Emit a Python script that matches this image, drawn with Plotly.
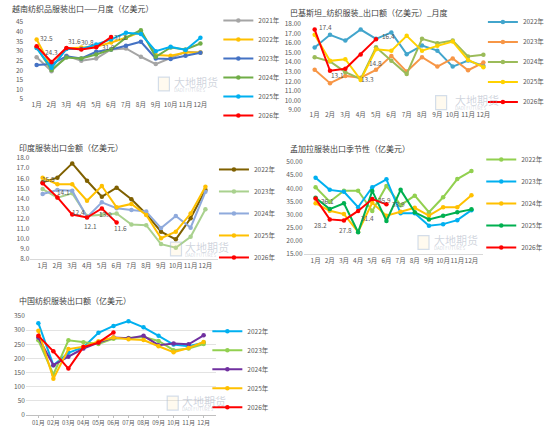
import plotly.graph_objects as go

FONT = "Noto Sans CJK SC"

months = ["1月", "2月", "3月", "4月", "5月", "6月", "7月", "8月", "9月", "10月", "11月", "12月"]
months_cn = ["01月", "02月", "03月", "04月", "05月", "06月", "07月", "08月", "09月", "10月", "11月", "12月"]

# 越南纺织品服装出口（亿美元）
vn_2021 = [26.8, 19.5, 27.5, 24.9, 26.1, 30.8, 31.3, 27.0, 23.2, 26.5, 29.6, 29.2]
vn_2022 = [36.0, 21.5, 31.3, 31.8, 32.2, 34.4, 36.9, 40.0, 27.9, 27.5, 29.2, 29.2]
vn_2023 = [22.7, 23.2, 27.3, 26.1, 29.6, 30.8, 32.7, 34.8, 26.1, 25.8, 27.5, 29.1]
vn_2024 = [31.8, 20.1, 26.6, 26.1, 28.2, 30.8, 36.9, 40.8, 27.0, 31.8, 30.8, 33.9]
vn_2025 = [31.5, 21.3, 31.0, 31.0, 33.4, 36.0, 39.4, 38.8, 29.9, 32.2, 30.5, 36.9]
vn_2026 = [32.5, 24.3, 31.6, 30.8, 31.9, 37.2]

# 巴基斯坦纺织服装出口额（亿美元）
pk_2022 = [15.52, 16.85, 16.25, 17.40, 16.43, 17.10, 14.83, 15.73, 15.20, 13.53, 14.16, 13.60]
pk_2023 = [13.19, 11.80, 12.56, 12.38, 13.19, 14.65, 13.01, 14.52, 13.53, 14.38, 13.15, 13.95]
pk_2024 = [14.52, 14.06, 12.95, 12.25, 15.55, 14.13, 12.75, 16.43, 15.98, 16.25, 14.58, 14.76]
pk_2025 = [16.85, 14.13, 14.30, 12.14, 15.35, 15.20, 16.75, 15.20, 15.70, 16.15, 14.23, 13.47]
pk_2026 = [17.4, 13.1, 13.3, 14.8, 16.4]

# 印度服装出口金额（亿美元）
in_2022 = [15.59, 16.05, 17.47, 15.75, 14.17, 15.06, 13.91, 12.46, 10.70, 9.94, 12.03, 14.83]
in_2023 = [14.93, 14.07, 14.50, 12.25, 12.39, 12.50, 11.41, 11.35, 9.47, 9.11, 10.20, 12.92]
in_2024 = [14.44, 14.83, 14.76, 12.13, 13.61, 13.02, 12.85, 12.69, 11.06, 12.25, 11.10, 14.66]
in_2025 = [16.05, 15.40, 15.40, 13.77, 15.23, 13.12, 13.45, 12.36, 10.05, 10.70, 12.50, 15.16]
in_2026 = [15.5, 14.1, 12.4, 12.1, 13.0, 11.6]

# 孟加拉服装出口（亿美元）
bd_2022 = [40.4, 34.9, 39.1, 39.1, 31.4, 40.9, 33.6, 37.2, 30.9, 36.6, 43.5, 46.6]
bd_2023 = [44.0, 39.4, 38.7, 32.8, 40.4, 43.4, 30.5, 30.5, 25.8, 26.4, 27.9, 31.7]
bd_2024 = [34.3, 31.5, 30.2, 23.5, 34.5, 29.6, 31.1, 32.6, 29.6, 32.8, 32.8, 37.4]
bd_2025 = [36.4, 32.1, 34.3, 23.3, 39.0, 27.6, 39.4, 30.9, 28.2, 29.6, 30.9, 32.0]
bd_2026 = [36.1, 28.2, 27.8, 31.4, 35.9, 33.9]

# 中国纺织服装出口额（亿美元）
cn_2022 = [325, 176, 220, 240, 291, 315, 332, 310, 280, 249, 243, 256]
cn_2023 = [264, 143, 264, 257, 251, 270, 272, 276, 262, 229, 235, 251]
cn_2024 = [274, 176, 206, 235, 256, 274, 271, 280, 247, 253, 250, 282]
cn_2025 = [298, 128, 233, 241, 261, 274, 268, 265, 243, 222, 237, 258]
cn_2026 = [280, 225, 164, 240, 256, 292]

panels = [
    dict(n="", x=months, legend="legend",
         series=[("2021年", vn_2021, "#A5A5A5"), ("2022年", vn_2022, "#FFC000"),
                 ("2023年", vn_2023, "#4472C4"), ("2024年", vn_2024, "#70AD47"),
                 ("2025年", vn_2025, "#00B0F0"), ("2026年", vn_2026, "#FF0000")]),
    dict(n="2", x=months, legend="legend2",
         series=[("2022年", pk_2022, "#42A5CC"), ("2023年", pk_2023, "#F79646"),
                 ("2024年", pk_2024, "#9BBB59"), ("2025年", pk_2025, "#FFD200"),
                 ("2026年", pk_2026, "#FF0000")]),
    dict(n="3", x=months, legend="legend3",
         series=[("2022年", in_2022, "#7F6000"), ("2023年", in_2023, "#A9D18E"),
                 ("2024年", in_2024, "#8FAADC"), ("2025年", in_2025, "#FFC000"),
                 ("2026年", in_2026, "#FF0000")]),
    dict(n="4", x=months, legend="legend4",
         series=[("2022年", bd_2022, "#92D050"), ("2023年", bd_2023, "#00B0F0"),
                 ("2024年", bd_2024, "#FFC000"), ("2025年", bd_2025, "#00B050"),
                 ("2026年", bd_2026, "#FF0000")]),
    dict(n="5", x=months_cn, legend="legend5",
         series=[("2022年", cn_2022, "#00B0F0"), ("2023年", cn_2023, "#92D050"),
                 ("2024年", cn_2024, "#7030A0"), ("2025年", cn_2025, "#FFC000"),
                 ("2026年", cn_2026, "#FF0000")]),
]

fig = go.Figure()
for p in panels:
    for name, vals, col in p["series"]:
        fig.add_trace(go.Scatter(
            x=p["x"][:len(vals)], y=vals, name=name, mode="lines+markers",
            line=dict(color=col, width=2), marker=dict(color=col, size=4.5),
            xaxis="x" + p["n"], yaxis="y" + p["n"], legend=p["legend"],
            legendgroup=p["legend"] + name))

tick = dict(size=6.5, color="#595959", family=FONT)
ax_common = dict(type="category", showgrid=False, zeroline=False, tickfont=tick,
                 fixedrange=True, ticks="", tickangle=0, automargin=False)

layout = dict(
    width=550, height=433,
    margin=dict(l=0, r=0, t=0, b=0, autoexpand=False),
    paper_bgcolor="white", plot_bgcolor="white",
    font=dict(family=FONT, color="#595959"), showlegend=True,
    xaxis=dict(ax_common, domain=[0.044, 0.387], anchor="y"),
    yaxis=dict(ax_common, type="linear", domain=[0.771, 0.949], range=[5, 45],
               dtick=5, anchor="x"),
    xaxis2=dict(ax_common, domain=[0.549, 0.902], anchor="y2"),
    yaxis2=dict(ax_common, type="linear", domain=[0.746, 0.945], range=[9, 18],
                dtick=1, tickformat=".2f", anchor="x2"),
    xaxis3=dict(ax_common, domain=[0.055, 0.396], anchor="y3",
                showline=True, linecolor="#D9D9D9", linewidth=1),
    yaxis3=dict(ax_common, type="linear", domain=[0.402, 0.635], range=[8, 18],
                dtick=1, tickformat=".1f", anchor="x3"),
    xaxis4=dict(ax_common, domain=[0.552, 0.879], anchor="y4",
                showline=True, linecolor="#D9D9D9", linewidth=1),
    yaxis4=dict(ax_common, type="linear", domain=[0.413, 0.626], range=[15, 50],
                dtick=5, tickformat=".2f", anchor="x4"),
    xaxis5=dict(ax_common, domain=[0.047, 0.393], anchor="y5",
                showline=True, linecolor="#BFBFBF", linewidth=1,
                ticks="outside", ticklen=2, tickcolor="#BFBFBF",
                tickfont=dict(tick, size=6)),
    yaxis5=dict(ax_common, type="linear", domain=[0.042, 0.270], range=[0, 350],
                dtick=50, anchor="x5", showgrid=True, gridcolor="#E3E3E3",
                gridwidth=0.8),
)

leg = dict(bgcolor="rgba(0,0,0,0)", font=dict(size=6.5, color="#595959", family=FONT),
           yanchor="middle", xanchor="left", xref="paper", yref="paper",
           tracegroupgap=0, itemwidth=30, traceorder="grouped")
layout["legend"] = dict(leg, x=0.397, y=0.843, traceorder="normal")
layout["legend2"] = dict(leg, x=0.878, y=0.857, tracegroupgap=1)
layout["legend3"] = dict(leg, x=0.389, y=0.507, tracegroupgap=3)
layout["legend4"] = dict(leg, x=0.875, y=0.530, tracegroupgap=3)
layout["legend5"] = dict(leg, x=0.377, y=0.147, traceorder="normal")
fig.update_layout(**layout)

# 标题
titles = [
    ("越南纺织品服装出口——月度（亿美元）", 0.018, 0.981),
    ("巴基斯坦_纺织服装_出口额（亿美元）_月度", 0.524, 0.972),
    ("印度服装出口金额（亿美元）", 0.031, 0.660),
    ("孟加拉服装出口季节性（亿美元）", 0.524, 0.658),
    ("中国纺织服装出口额（亿美元）", 0.031, 0.307),
]
for t, x, y in titles:
    fig.add_annotation(text=t, x=x, y=y, xref="paper", yref="paper",
                       xanchor="left", yanchor="middle", showarrow=False,
                       font=dict(size=8, color="#404040", family=FONT))

# 2026年数据标签
labels = [
    ("", vn_2026, months, [(10, 8), (0, 10), (8, 7), (6, 7), (12, 0), (9, 0)], "{:.1f}"),
    ("2", pk_2026, months, [(11, 3), (7, -4), (22, -10), (15, -9), (12, 3)], "{:.1f}"),
    ("3", in_2026, months, [(6, 4), (6, 5), (6, 3), (3, -8), (4, -6), (4, -5)], "{:.1f}"),
    ("4", bd_2026, months, [(12, -2), (-9, -6), (2, -10), (9, -7), (12, -1), (12, 0)], "{:.1f}"),
]
for n, vals, cats, shifts, fmt in labels:
    for i, v in enumerate(vals):
        dx, dy = shifts[i]
        fig.add_annotation(x=cats[i], y=v, xref="x" + n, yref="y" + n,
                           text=fmt.format(v), showarrow=False,
                           xshift=dx, yshift=dy,
                           font=dict(size=6.5, color="#595959", family=FONT))

# 水印
marks = [(0.288, 0.806, 0.312), (0.792, 0.763, 0.823), (0.310, 0.425, 0.333),
         (0.760, 0.440, 0.785), (0.304, 0.069, 0.327)]
for lx, y, tx in marks:
    fig.add_shape(type="rect", xref="paper", yref="paper",
                  x0=lx, x1=lx + 0.02, y0=y - 0.016, y1=y + 0.016,
                  line=dict(color="rgba(160,185,215,0.45)", width=1.2),
                  fillcolor="rgba(255,220,150,0.15)")
    fig.add_annotation(text="大地期货", x=tx, y=y + 0.005, xref="paper", yref="paper",
                       xanchor="left", yanchor="middle", showarrow=False,
                       font=dict(size=11, color="rgba(150,160,180,0.45)", family=FONT))
    fig.add_annotation(text="DADI FUTURES", x=tx, y=y - 0.013, xref="paper",
                       yref="paper", xanchor="left", yanchor="middle", showarrow=False,
                       font=dict(size=4.5, color="rgba(150,160,180,0.45)", family=FONT))

# the page body has a default 8px margin; drop it so the figure fills the window
fig.write_html("out.html", config={"displayModeBar": False},
               post_script="document.body.style.margin = '0';")
